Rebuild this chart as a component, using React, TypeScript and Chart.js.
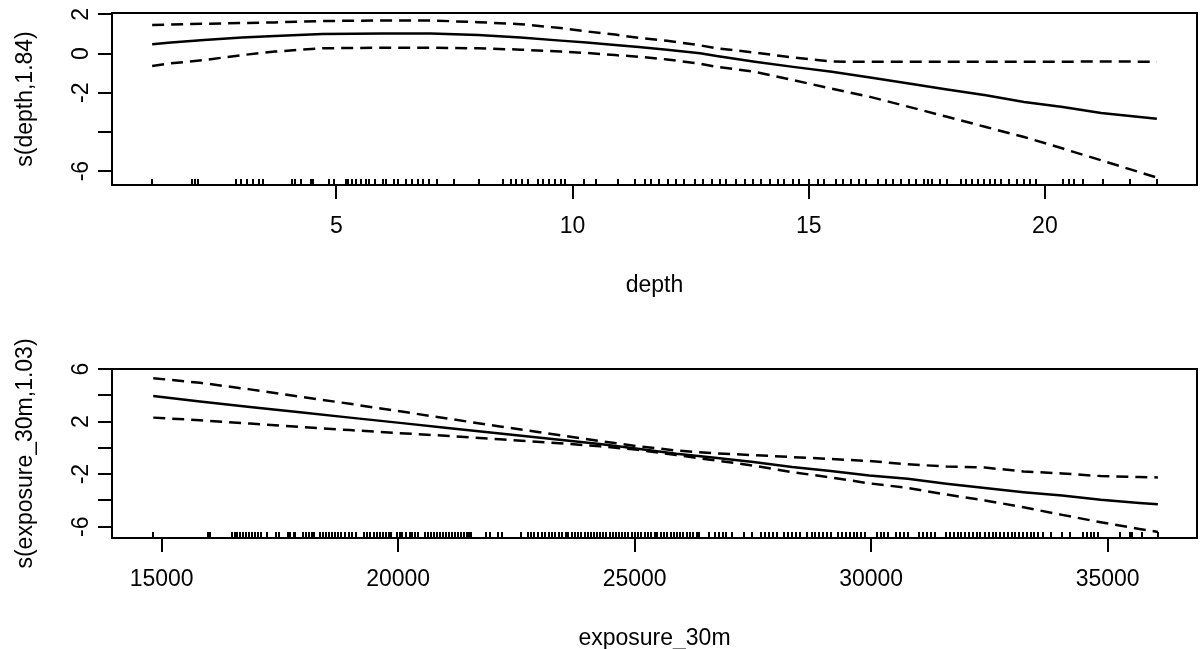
import React, { useEffect, useRef } from "react";
import { Chart, registerables } from "chart.js";

Chart.register(...registerables);

// ---------- Panel 1: depth ----------
const depthX = [1.1, 1.5, 2.2, 3.0, 3.7, 4.7, 6.0, 7.0, 8.0, 8.9, 9.75, 10.3, 10.9, 11.4, 12.0, 12.7, 13.05, 13.86, 14.67, 15.49, 16.3, 17.12, 17.93, 18.75, 19.56, 20.38, 21.19, 22.37];
const depthFit = [0.47, 0.56, 0.69, 0.82, 0.9, 1.0, 1.02, 1.02, 0.95, 0.82, 0.66, 0.56, 0.44, 0.34, 0.2, 0.02, -0.13, -0.42, -0.68, -0.93, -1.22, -1.53, -1.84, -2.13, -2.47, -2.73, -3.04, -3.33];
const depthUpper = [1.46, 1.48, 1.52, 1.56, 1.59, 1.66, 1.69, 1.69, 1.6, 1.5, 1.3, 1.13, 0.97, 0.8, 0.65, 0.42, 0.27, 0.05, -0.2, -0.41, -0.42, -0.42, -0.42, -0.42, -0.42, -0.42, -0.4, -0.42];
const depthLower = [-0.63, -0.5, -0.33, -0.08, 0.1, 0.27, 0.3, 0.3, 0.27, 0.2, 0.1, 0.03, -0.08, -0.16, -0.3, -0.52, -0.68, -0.93, -1.36, -1.79, -2.21, -2.72, -3.23, -3.75, -4.26, -4.85, -5.45, -6.33];
const depthRug = [1.1, 1.95, 2.01, 2.07, 2.87, 2.99, 3.11, 3.24, 3.36, 3.44, 4.06, 4.12, 4.26, 4.47, 4.5, 4.84, 4.96, 5.2, 5.24, 5.33, 5.42, 5.53, 5.63, 5.7, 5.81, 5.99, 6.06, 6.23, 6.31, 6.48, 6.6, 6.72, 6.84, 6.97, 7.13, 7.5, 8.03, 8.52, 8.69, 8.81, 8.93, 9.06, 9.26, 9.38, 9.51, 9.63, 9.75, 9.84, 10.25, 10.49, 10.97, 11.33, 11.54, 11.66, 11.82, 12.03, 12.19, 12.35, 12.6, 12.76, 12.96, 13.13, 13.25, 13.45, 13.66, 13.82, 13.98, 14.19, 14.35, 14.47, 14.67, 14.8, 15.0, 15.2, 15.33, 15.57, 15.73, 15.9, 16.06, 16.22, 16.47, 16.63, 16.79, 16.95, 17.12, 17.28, 17.44, 17.52, 17.61, 17.77, 17.93, 18.22, 18.34, 18.46, 18.58, 18.71, 18.83, 18.95, 19.07, 19.24, 19.4, 19.56, 19.68, 19.81, 20.38, 20.5, 20.62, 20.81, 21.23, 21.8, 22.37];
const depthXTicks = [5, 10, 15, 20];
const depthYTicks = [-6, -4, -2, 0, 2];
const depthYLabels = ["-6", "", "-2", "0", "2"];

// ---------- Panel 2: exposure_30m ----------
const expoX = [14822, 15810, 16867, 17924, 18981, 20038, 21095, 22152, 23209, 24266, 25065, 25881, 26697, 27512, 28328, 29144, 29960, 30775, 31591, 32407, 33222, 34038, 34854, 35670, 36063];
const expoFit = [3.95, 3.52, 3.11, 2.71, 2.3, 1.9, 1.5, 1.1, 0.69, 0.29, -0.07, -0.45, -0.76, -1.08, -1.46, -1.77, -2.1, -2.35, -2.73, -3.05, -3.37, -3.63, -3.95, -4.2, -4.3];
const expoUpper = [5.3, 4.95, 4.45, 3.9, 3.35, 2.78, 2.2, 1.63, 1.07, 0.52, 0.12, -0.2, -0.42, -0.55, -0.7, -0.85, -1.0, -1.25, -1.42, -1.5, -1.8, -1.95, -2.15, -2.22, -2.25];
const expoLower = [2.3, 2.1, 1.85, 1.6, 1.35, 1.12, 0.9, 0.65, 0.4, 0.12, -0.15, -0.55, -0.95, -1.35, -1.85, -2.25, -2.7, -3.05, -3.55, -4.0, -4.52, -5.1, -5.66, -6.17, -6.4];
const expoRug = [14822, 15980, 16030, 16494, 16540, 16600, 16650, 16720, 16790, 16850, 16910, 16980, 17040, 17100, 17221, 17423, 17480, 17665, 17720, 17790, 17827, 17989, 18050, 18120, 18180, 18231, 18352, 18410, 18480, 18540, 18600, 18670, 18730, 18800, 18877, 18958, 19030, 19119, 19281, 19340, 19410, 19480, 19550, 19610, 19680, 19740, 19800, 19846, 19967, 20030, 20089, 20170, 20240, 20300, 20360, 20412, 20573, 20630, 20700, 20760, 20820, 20890, 20950, 21010, 21080, 21140, 21200, 21260, 21330, 21390, 21450, 21500, 21542, 21865, 21946, 22108, 22189, 22592, 22754, 22810, 22880, 22950, 23050, 23110, 23180, 23250, 23320, 23400, 23470, 23540, 23600, 23670, 23740, 23800, 23870, 23940, 24010, 24070, 24140, 24200, 24270, 24340, 24400, 24470, 24540, 24600, 24670, 24740, 24800, 24870, 24940, 25010, 25080, 25140, 25210, 25280, 25350, 25420, 25480, 25550, 25620, 25690, 25760, 25830, 25900, 25960, 26030, 26100, 26170, 26240, 26308, 26370, 26574, 26697, 26780, 26860, 26941, 27064, 27308, 27472, 27675, 27760, 27840, 27920, 28002, 28165, 28250, 28330, 28410, 28491, 28654, 28740, 28820, 28900, 28980, 29060, 29144, 29307, 29390, 29470, 29550, 29630, 29710, 29790, 29878, 30123, 30200, 30280, 30367, 30530, 30610, 30690, 30775, 31020, 31100, 31180, 31260, 31346, 31591, 31670, 31750, 31830, 31910, 31990, 32070, 32150, 32230, 32310, 32407, 32490, 32570, 32650, 32730, 32810, 32890, 32970, 33050, 33130, 33210, 33290, 33370, 33450, 33530, 33630, 33793, 34038, 34201, 34480, 34560, 34640, 34720, 34800, 35260, 35480, 35510, 35725, 36063];
const expoXTicks = [15000, 20000, 25000, 30000, 35000];
const expoYTicks = [-6, -4, -2, 0, 2, 4, 6];
const expoYLabels = ["-6", "", "-2", "", "2", "", "6"];

const FONT = { family: "'Liberation Sans', Arial, sans-serif", size: 23 };

const boxRugPlugin = {
  id: "boxRug",
  afterDatasetsDraw(chart: any, _args: any, opts: any) {
    const { ctx, chartArea, scales } = chart;
    const { left, right, top, bottom } = chartArea;
    ctx.save();
    ctx.strokeStyle = "#000";
    ctx.lineWidth = 2;
    ctx.beginPath();
    for (const v of opts.rug as number[]) {
      const px = Math.round(scales.x.getPixelForValue(v));
      ctx.moveTo(px, bottom);
      ctx.lineTo(px, bottom - 6);
    }
    ctx.stroke();
    ctx.lineWidth = 2;
    ctx.strokeRect(left, top, right - left, bottom - top);
    ctx.restore();
  },
};

function pts(xs: number[], ys: number[]) {
  return xs.map((x, i) => ({ x, y: ys[i] }));
}

function makeConfig(p: any): any {
  const lineDs = (ys: number[], dashed: boolean) => ({
    data: pts(p.xs, ys),
    borderColor: "#000",
    borderWidth: 2.5,
    borderDash: dashed ? [12, 7] : [],
    showLine: true,
    pointRadius: 0,
    tension: 0,
    fill: false,
  });
  const grid = {
    display: true,
    drawOnChartArea: false,
    drawTicks: true,
    tickLength: 14,
    color: "#000",
    lineWidth: 2,
  };
  return {
    type: "scatter",
    data: {
      datasets: [lineDs(p.fit, false), lineDs(p.upper, true), lineDs(p.lower, true)],
    },
    options: {
      animation: false,
      responsive: false,
      layout: { padding: { left: 0, right: 7, top: p.padTop, bottom: 0 } },
      plugins: {
        legend: { display: false },
        tooltip: { enabled: false },
        boxRug: { rug: p.rug },
      },
      scales: {
        x: {
          type: "linear",
          position: "bottom",
          min: p.xMin,
          max: p.xMax,
          afterBuildTicks: (s: any) => {
            s.ticks = p.xTicks.map((v: number) => ({ value: v }));
          },
          afterFit: (s: any) => {
            s.height = p.xHeight;
            s.paddingLeft = 0;
            s.paddingRight = 0;
            s.paddingTop = 0;
            s.paddingBottom = 0;
          },
          grid,
          border: { display: false },
          ticks: {
            autoSkip: false,
            maxRotation: 0,
            minRotation: 0,
            padding: p.xTickPad,
            color: "#000",
            font: FONT,
            callback: (v: any) => String(v),
          },
          title: {
            display: true,
            text: p.xTitle,
            color: "#000",
            font: FONT,
            padding: { top: 0, bottom: p.xTitlePad },
          },
        },
        y: {
          type: "linear",
          position: "left",
          min: p.yMin,
          max: p.yMax,
          afterBuildTicks: (s: any) => {
            s.ticks = p.yTicks.map((v: number) => ({ value: v }));
          },
          afterFit: (s: any) => {
            s.width = 112;
            s.paddingLeft = 0;
            s.paddingRight = 0;
            s.paddingTop = 0;
            s.paddingBottom = 0;
          },
          grid,
          border: { display: false },
          ticks: {
            autoSkip: false,
            minRotation: 90,
            maxRotation: 90,
            crossAlign: "center",
            padding: 6,
            color: "#000",
            font: FONT,
            callback: (_v: any, i: number) => p.yLabels[i],
          },
          title: {
            display: true,
            text: p.yTitle,
            color: "#000",
            font: FONT,
            padding: { top: 12, bottom: 0 },
          },
        },
      },
    },
    plugins: [boxRugPlugin],
  };
}

export default function App() {
  const ref1 = useRef<HTMLCanvasElement | null>(null);
  const ref2 = useRef<HTMLCanvasElement | null>(null);

  useEffect(() => {
    const c1 = new Chart(
      ref1.current as HTMLCanvasElement,
      makeConfig({
        xs: depthX,
        fit: depthFit,
        upper: depthUpper,
        lower: depthLower,
        rug: depthRug,
        xTicks: depthXTicks,
        yTicks: depthYTicks,
        yLabels: depthYLabels,
        xMin: 0.25,
        xMax: 23.22,
        yMin: -6.71,
        yMax: 2.07,
        padTop: 13,
        xHeight: 115,
        xTickPad: 14,
        xTitlePad: 1,
        xTitle: "depth",
        yTitle: "s(depth,1.84)",
      })
    );
    const c2 = new Chart(
      ref2.current as HTMLCanvasElement,
      makeConfig({
        xs: expoX,
        fit: expoFit,
        upper: expoUpper,
        lower: expoLower,
        rug: expoRug,
        xTicks: expoXTicks,
        yTicks: expoYTicks,
        yLabels: expoYLabels,
        xMin: 13950,
        xMax: 36890,
        yMin: -6.86,
        yMax: 6.0,
        padTop: 49,
        xHeight: 122,
        xTickPad: 14,
        xTitlePad: 8,
        xTitle: "exposure_30m",
        yTitle: "s(exposure_30m,1.03)",
      })
    );
    return () => {
      c1.destroy();
      c2.destroy();
    };
  }, []);

  return (
    <div
      style={{
        position: "fixed",
        left: 0,
        top: 0,
        width: 1204,
        height: 649,
        overflow: "hidden",
        background: "#fff",
      }}
    >
      <canvas
        ref={ref1}
        width={1204}
        height={300}
        style={{ position: "absolute", left: 0, top: 0, width: 1204, height: 300 }}
      />
      <canvas
        ref={ref2}
        width={1204}
        height={340}
        style={{ position: "absolute", left: 0, top: 320, width: 1204, height: 340 }}
      />
    </div>
  );
}
